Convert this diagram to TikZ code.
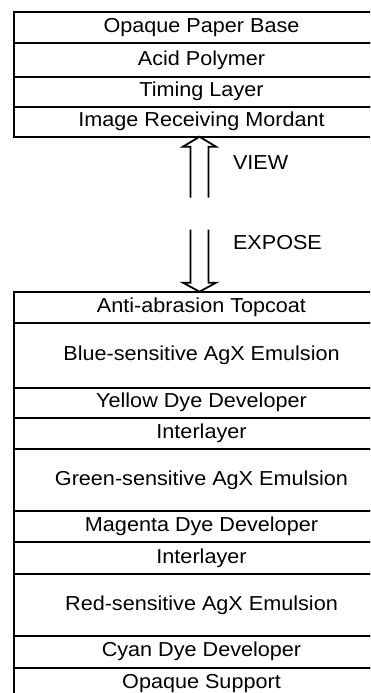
\documentclass[tikz,border=0pt]{standalone}
\usepackage{fontspec}
\setmainfont[FakeStretch=1.07]{Liberation Sans}
\usepackage{tikz}
\usetikzlibrary{positioning}
\usetikzlibrary{calc}

\begin{document}
\begin{tikzpicture}[x=1pt, y=-1pt, line width=2pt,
        layer/.style={rectangle, draw, outer sep=0pt, inner sep=0pt,
            minimum width=375pt, font=\fontsize{20.2}{22}\selectfont},
        label/.style={anchor=west, inner sep=0pt, font=\fontsize{20.2}{22}\selectfont},
        hollow/.style={line width=1.8pt, line join=miter}]
            \useasboundingbox (0,0) rectangle (370,693);
            \clip (0,0) rectangle (370,693);

            % receiving sheet
            \node [layer, minimum height=31.6pt, anchor=north west] (paper) at (14,11.7) {Opaque Paper Base};
            \node [layer, minimum height=33.4pt, below=0pt of paper] (acid) {Acid Polymer};
            \node [layer, minimum height=30pt, below=0pt of acid] (timing) {Timing Layer};
            \node [layer, minimum height=30pt, below=0pt of timing] (mordant) {Image Receiving Mordant};

            % negative
            \node [layer, minimum height=31.6pt, anchor=north west] (topcoat) at (14,291.7) {Anti-abrasion Topcoat};
            \node [layer, minimum height=64.4pt, below=0pt of topcoat] (blueem) {Blue-sensitive AgX Emulsion};
            \node [layer, minimum height=30pt, below=0pt of blueem] (yellowdd) {Yellow Dye Developer};
            \node [layer, minimum height=31.6pt, below=0pt of yellowdd] (inter1) {Interlayer};
            \node [layer, minimum height=61.4pt, below=0pt of inter1] (greenem) {Green-sensitive AgX Emulsion};
            \node [layer, minimum height=31.6pt, below=0pt of greenem] (magentadd) {Magenta Dye Developer};
            \node [layer, minimum height=32pt, below=0pt of magentadd] (inter2) {Interlayer};
            \node [layer, minimum height=61.4pt, below=0pt of inter2] (redem) {Red-sensitive AgX Emulsion};
            \node [layer, minimum height=32pt, below=0pt of redem] (cyandd) {Cyan Dye Developer};
            \node [layer, minimum height=32pt, below=0pt of cyandd] (support) {Opaque Support};

            % view and expose
            \coordinate (viewtip) at ($(mordant.south)+(-2,0)$);
            \coordinate (exposetip) at ($(topcoat.north)+(-2,0)$);
            \node [label] (view) at (232,163) {VIEW};
            \node [label] (expose) at (232,243) {EXPOSE};

            \draw [hollow] ($(viewtip)+(-9,61)$) -- ++(0,-51) -- ++(-7.5,0) -- (viewtip)
                -- ++(16.5,10) -- ++(-7.5,0) -- ++(0,51);
            \draw [hollow] ($(exposetip)+(-9,-62)$) -- ++(0,53) -- ++(-7.5,0) -- (exposetip)
                -- ++(16.5,-9) -- ++(-7.5,0) -- ++(0,-53);
        \end{tikzpicture}
\end{document}
